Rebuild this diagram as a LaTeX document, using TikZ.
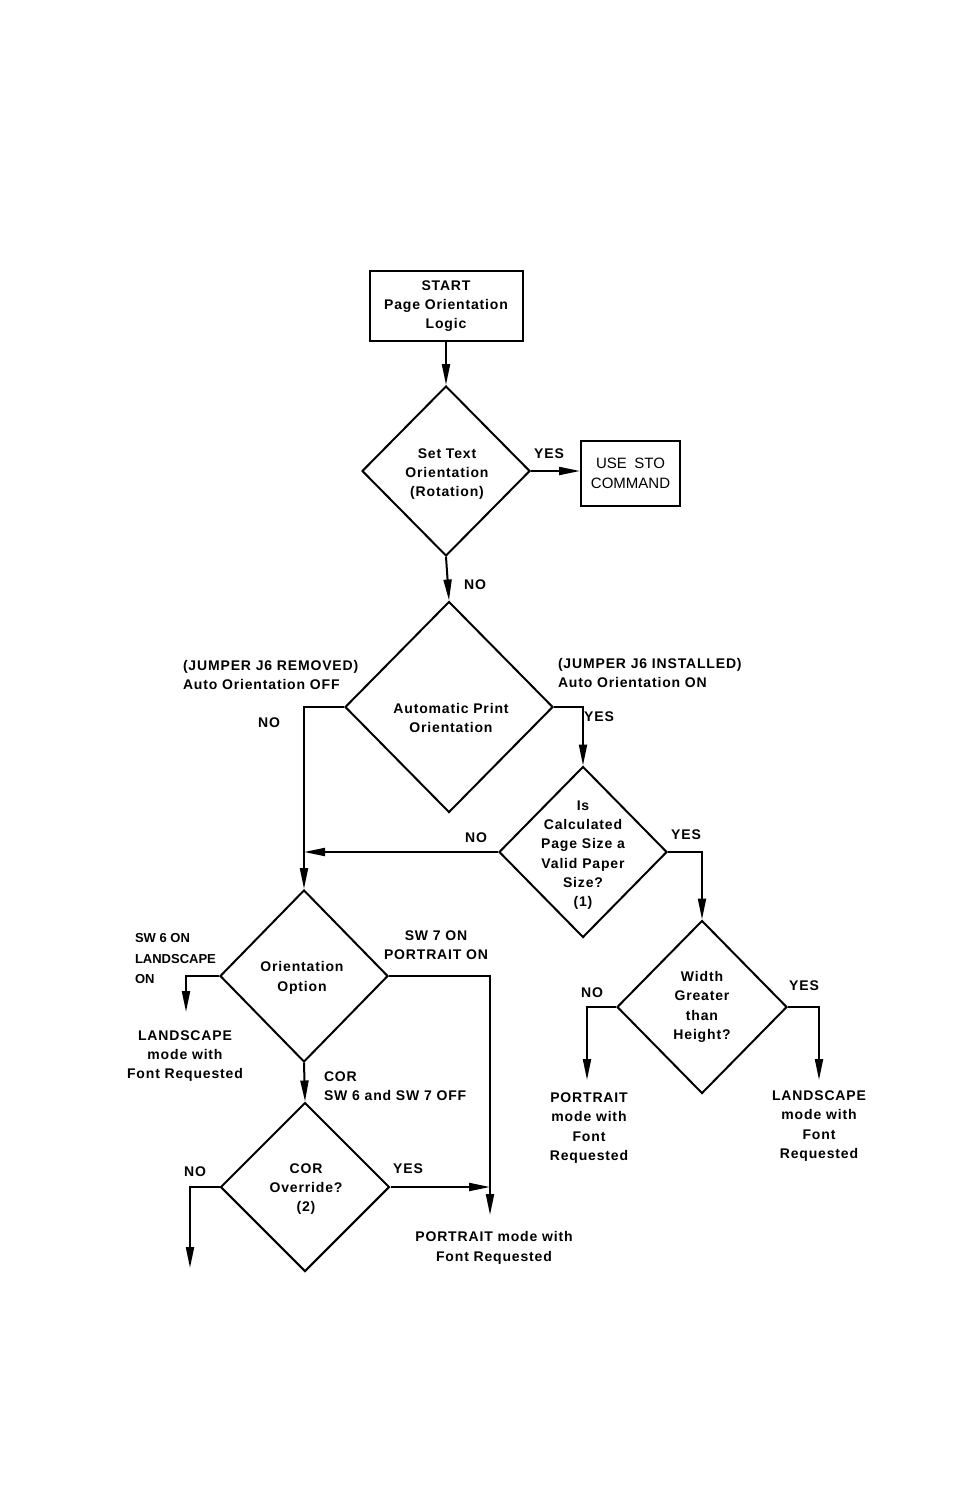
\documentclass[tikz,border=0pt]{standalone}
\usepackage{fontspec}
\setmainfont[LetterSpace=6]{Liberation Sans}
\newfontfamily\plainsans{Liberation Sans}
\usetikzlibrary{shapes.geometric,arrows.meta}
\begin{document}
\begin{tikzpicture}[x=1pt,y=-1pt,line width=2pt,
  every node/.style={font=\bfseries\fontsize{14}{19.3}\selectfont, align=center, inner sep=0pt},
  dia/.style={draw, diamond, inner sep=0pt},
  box/.style={draw, rectangle},
  arr/.style={-{Triangle[length=21pt,width=8pt]}},
  lbl/.style={}]
\useasboundingbox (0,0) rectangle (959,1495);
% boxes
\node[box, minimum width=153, minimum height=70] (start) at (446,306) {START\\Page Orientation\\Logic};
\node[box, font=\plainsans\fontsize{15}{20}\selectfont, minimum width=99, minimum height=65] (sto) at (630.5,473) {USE\enspace STO\\COMMAND};
% diamonds
\node[dia, minimum width=168, minimum height=170] (d1) at (446,471) {};
\node[lbl] (d1t) at (447,474) {Set Text\\Orientation\\(Rotation)};
\node[dia, minimum width=208, minimum height=211] (d2) at (449,707) {};
\node[lbl] (d2t) at (451,718) {Automatic Print\\Orientation};
\node[dia, minimum width=168, minimum height=171] (d3) at (583,852) {};
\node[lbl] (d3t) at (583,855) {Is\\Calculated\\Page Size a\\Valid Paper\\Size?\\(1)};
\node[dia, minimum width=170, minimum height=173] (d4) at (702,1007) {};
\node[lbl] (d4t) at (702,1007) {Width\\Greater\\than\\Height?};
\node[dia, minimum width=168, minimum height=172] (d5) at (304,976) {};
\node[lbl] (d5t) at (302,978) {Orientation\\Option};
\node[dia, minimum width=169, minimum height=169] (d6) at (305,1187) {};
\node[lbl] (d6t) at (306,1189) {COR\\Override?\\(2)};
% free ends
\coordinate (p1) at (587,1080);
\coordinate (l1) at (819,1080);
\coordinate (l2) at (186,1012);
\coordinate (p2) at (490,1215);
\coordinate (n1) at (190,1268);
% connectors
\draw[arr] (start.south) -- (d1.north);
\draw[arr] (d1.east) -- (d1.east -| sto.west);
\draw[arr] (d1.south) -- (d2.north);
\draw[arr] (d2.west) -| (d5.north);
\draw[arr] (d2.east) -| (d3.north);
\draw[arr] (d3.west) -- (d3.west -| d5.north);
\draw[arr] (d3.east) -| (d4.north);
\draw[arr] (d4.west) -| (p1);
\draw[arr] (d4.east) -| (l1);
\draw[arr] (d5.west) -| (l2);
\draw[arr] (d5.east) -| (p2);
\draw[arr] (d5.south) -- (d6.north);
\draw[arr] (d6.east) -- (d6.east -| p2);
\draw[arr] (d6.west) -| (n1);
% labels
\node (y1) at (549,454) {YES};
\node (n2) at (475,585) {NO};
\node[anchor=west, align=left] (jr) at (182,675) {(JUMPER J6 REMOVED)\\Auto Orientation OFF};
\node (n3) at (269,723) {NO};
\node[anchor=west, align=left] (ji) at (557,673) {(JUMPER J6 INSTALLED)\\Auto Orientation ON};
\node (y2) at (599,717) {YES};
\node (n4) at (476,838) {NO};
\node (y3) at (686,835) {YES};
\node (n5) at (592,993) {NO};
\node (y4) at (804,986) {YES};
\node (pt1) at (589,1128) {PORTRAIT\\mode with\\Font\\Requested};
\node (ls1) at (819,1126) {LANDSCAPE\\mode with\\Font\\Requested};
\node[anchor=west, align=left, font=\plainsans\bfseries\fontsize{13}{20.5}\selectfont] (sw6) at (134,959) {SW 6 ON\\LANDSCAPE\\ON};
\node (ls2) at (185,1056) {LANDSCAPE\\mode with\\Font Requested};
\node (sw7) at (436,945) {SW 7 ON\\PORTRAIT ON};
\node[anchor=west, align=left] (cor) at (323,1086) {COR\\SW 6 and SW 7 OFF};
\node (n6) at (195,1172) {NO};
\node (y5) at (408,1169) {YES};
\node (pt2) at (494,1248) {PORTRAIT mode with\\Font Requested};
\end{tikzpicture}
\end{document}
